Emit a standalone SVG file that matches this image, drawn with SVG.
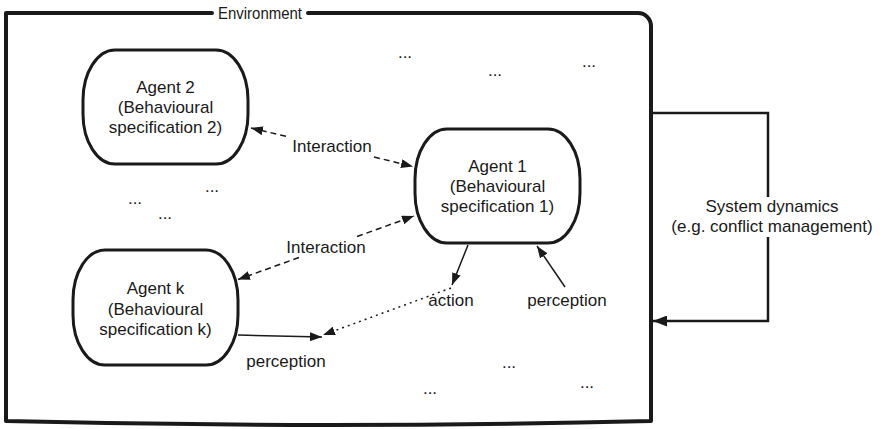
<svg xmlns="http://www.w3.org/2000/svg" width="882" height="429" viewBox="0 0 882 429">
<style>
text{font-family:"Liberation Sans",Arial,sans-serif;font-size:17px;fill:#1a1a1a;text-anchor:middle}
.env{fill:none;stroke:#1a1a1a;stroke-width:4;stroke-linecap:round;stroke-linejoin:round}
.agent{fill:#fff;stroke:#1a1a1a;stroke-width:3}
.solid{fill:none;stroke:#1a1a1a;stroke-width:1.5}
.dash{fill:none;stroke:#1a1a1a;stroke-width:1.5;stroke-dasharray:6 4}
.dot{fill:none;stroke:#1a1a1a;stroke-width:1.5;stroke-dasharray:2 4}
.sys{fill:none;stroke:#1a1a1a;stroke-width:2.5}
</style>
<defs>
<marker id="ah" viewBox="0 0 12 9" markerWidth="12" markerHeight="9" refX="12" refY="4.5" orient="auto-start-reverse" markerUnits="userSpaceOnUse">
<path d="M0,0 L12,4.5 L0,9 Z" fill="#1a1a1a"/>
</marker>
<marker id="ahb" viewBox="0 0 14 11" markerWidth="14" markerHeight="11" refX="14" refY="5.5" orient="auto" markerUnits="userSpaceOnUse">
<path d="M0,0 L14,5.5 L0,11 Z" fill="#1a1a1a"/>
</marker>
</defs>
<g id="environment">
<path class="env" d="M6,421 V13 H212 M308,13 H638 A13 13 0 0 1 651 26 V421 Q330,429 6,421"/>
<text x="260" y="19" textLength="84" lengthAdjust="spacingAndGlyphs">Environment</text>
</g>
<g id="agent2">
<path class="agent" d="M115,50 H216 A32 50 0 0 1 248 100 V114 A32 50 0 0 1 216 164 H115 A32 50 0 0 1 83 114 V100 A32 50 0 0 1 115 50 Z"/>
<text x="165.5" y="93">Agent 2</text>
<text x="165.5" y="113">(Behavioural</text>
<text x="165.5" y="133">specification 2)</text>
</g>
<g id="agent1">
<path class="agent" d="M447,129 H548 A32 50 0 0 1 580 179 V193 A32 50 0 0 1 548 243 H447 A32 50 0 0 1 415 193 V179 A32 50 0 0 1 447 129 Z"/>
<text x="497.5" y="172">Agent 1</text>
<text x="497.5" y="192">(Behavioural</text>
<text x="497.5" y="212">specification 1)</text>
</g>
<g id="agentk">
<path class="agent" d="M105,250 H206 A32 50 0 0 1 238 300 V315 A32 50 0 0 1 206 365 H105 A32 50 0 0 1 73 315 V300 A32 50 0 0 1 105 250 Z"/>
<text x="155.5" y="294">Agent k</text>
<text x="155.5" y="315">(Behavioural</text>
<text x="155.5" y="335">specification k)</text>
</g>
<g id="connectors">
<path class="dash" d="M251,128 L288,136.8" marker-start="url(#ah)"/>
<path class="dash" d="M374,157 L413,166.5" marker-end="url(#ah)"/>
<text x="332" y="152">Interaction</text>
<path class="dash" d="M299,257.5 L238,279.5" marker-end="url(#ah)"/>
<path class="dash" d="M357,236.5 L414,216" marker-end="url(#ah)"/>
<text x="326" y="253">Interaction</text>
<path class="solid" d="M468,245 L452,285" marker-end="url(#ah)"/>
<path class="dot" d="M451,288 L323,335" marker-end="url(#ah)"/>
<text x="451" y="306">action</text>
<path class="solid" d="M565,287 L537,246" marker-end="url(#ah)"/>
<text x="567" y="306">perception</text>
<path class="solid" d="M238,335 L322,337" marker-end="url(#ah)"/>
<text x="286" y="367">perception</text>
<path class="sys" d="M651,113 H768 V197 M768,237 V321 H653" marker-end="url(#ahb)"/>
<text x="772" y="212">System dynamics</text>
<text x="772" y="232">(e.g. conflict management)</text>
</g>
<g id="ellipses">
<text x="405" y="58">...</text>
<text x="495" y="76">...</text>
<text x="589" y="67">...</text>
<text x="212" y="192">...</text>
<text x="135" y="204">...</text>
<text x="165" y="219">...</text>
<text x="509" y="368">...</text>
<text x="430" y="394">...</text>
<text x="587" y="388">...</text>
</g>
</svg>
